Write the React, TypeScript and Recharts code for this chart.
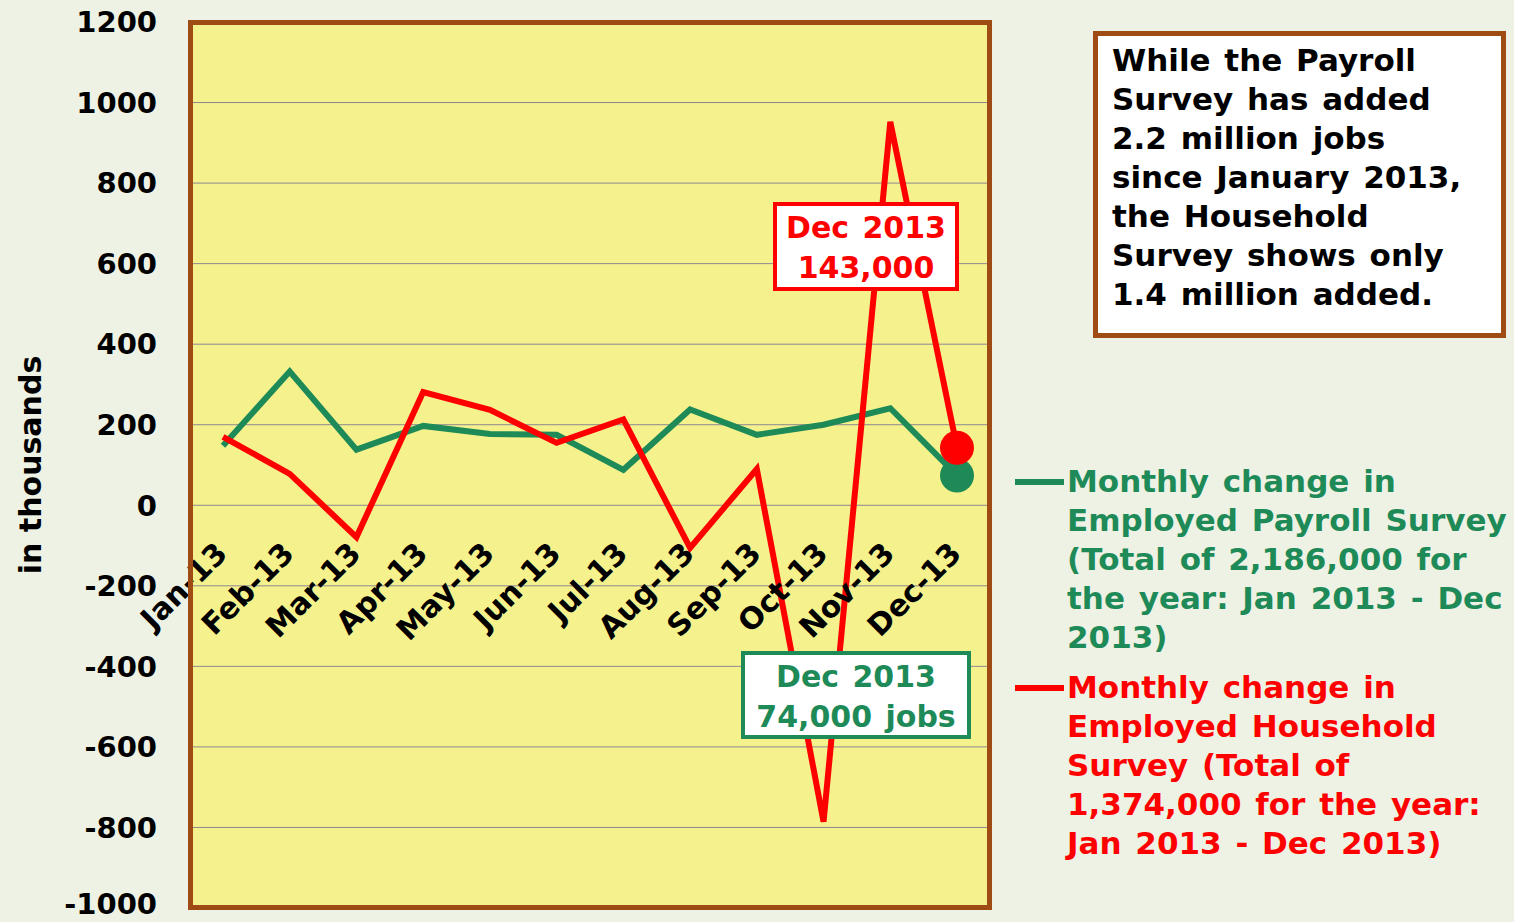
import React from "react";
import {
  LineChart,
  Line,
  XAxis,
  YAxis,
  CartesianGrid,
  ReferenceDot,
} from "recharts";

const months = [
  "Jan-13", "Feb-13", "Mar-13", "Apr-13", "May-13", "Jun-13",
  "Jul-13", "Aug-13", "Sep-13", "Oct-13", "Nov-13", "Dec-13",
];
// monthly change, thousands
const payroll = [148, 332, 138, 197, 177, 175, 88, 238, 175, 200, 241, 74];
const household = [170, 78, -79, 281, 237, 155, 213, -106, 90, -786, 952, 143];
const yTicks = [-1000, -800, -600, -400, -200, 0, 200, 400, 600, 800, 1000, 1200];

const payrollLegend = [
  "Monthly change in",
  "Employed Payroll Survey",
  "(Total of 2,186,000 for",
  "the year: Jan 2013 - Dec",
  "2013)",
];
const householdLegend = [
  "Monthly change in",
  "Employed Household",
  "Survey (Total of",
  "1,374,000 for the year:",
  "Jan 2013 - Dec 2013)",
];
const noteLines = [
  "While the Payroll",
  "Survey has added",
  "2.2 million jobs",
  "since January 2013,",
  "the Household",
  "Survey shows only",
  "1.4 million added.",
];
const redCallout = ["Dec 2013", "143,000"];
const greenCallout = ["Dec 2013", "74,000 jobs"];

const GREEN = "#1e8a58";
const RED = "#ff0000";
const BROWN = "#9e4b14";
const FONT = '"DejaVu Sans", Verdana, sans-serif';

const data = months.map((month, i) => ({
  month,
  payroll: payroll[i],
  household: household[i],
}));

const endDot = (color: string) => (props: any) => {
  if (props.index !== months.length - 1) return <g key={`d-${props.index}`} />;
  return <circle key={`d-${props.index}`} cx={props.cx} cy={props.cy} r={17} fill={color} />;
};

const monthLabel = (text: string) => (props: any) => {
  const { x, y } = props.viewBox;
  const tx = x + 6;
  const ty = y + 50;
  return (
    <text
      x={tx}
      y={ty}
      textAnchor="end"
      transform={`rotate(-45, ${tx}, ${ty})`}
      fontFamily={FONT}
      fontWeight="bold"
      fontSize={30}
      fill="#000"
    >
      {text}
    </text>
  );
};

// y tick; the lowest one sits on the bottom edge, lift it a hair
const YTick = (props: any) => {
  const { x, y, payload } = props;
  const lift = payload.value === yTicks[0] ? 4 : 0;
  return (
    <text
      x={x}
      y={y - lift}
      dy="0.355em"
      textAnchor="end"
      fontFamily={FONT}
      fontWeight="bold"
      fontSize={29}
      fill="#000"
    >
      {payload.value}
    </text>
  );
};

const yTitle = (props: any) => {
  const { x, y, height } = props.viewBox;
  const tx = x + 41;
  const ty = y + height / 2;
  return (
    <text
      x={tx}
      y={ty}
      textAnchor="middle"
      transform={`rotate(-90, ${tx}, ${ty})`}
      fontFamily={FONT}
      fontWeight="bold"
      fontSize={30}
      fill="#000"
    >
      in thousands
    </text>
  );
};

const textBlock: React.CSSProperties = {
  position: "absolute",
  fontFamily: FONT,
  fontWeight: "bold",
  fontSize: 31,
  lineHeight: "39px",
  whiteSpace: "nowrap",
  wordSpacing: 3,
};

function Callout({ lines, color, left, top, width, height }: any) {
  return (
    <div
      style={{
        ...textBlock,
        fontSize: 30,
        left,
        top,
        width,
        height,
        boxSizing: "border-box",
        border: `4px solid ${color}`,
        background: "#fff",
        color,
        textAlign: "center",
        lineHeight: "40px",
        paddingTop: 2,
      }}
    >
      {lines.map((l: string) => (
        <div key={l}>{l}</div>
      ))}
    </div>
  );
}

function LegendItem({ lines, color, top }: any) {
  return (
    <div style={{ ...textBlock, left: 1015, top, color }}>
      <div
        style={{
          position: "absolute",
          left: 0,
          top: 17,
          width: 49,
          height: 6,
          background: color,
        }}
      />
      <div style={{ marginLeft: 52 }}>
        {lines.map((l: string) => (
          <div key={l}>{l}</div>
        ))}
      </div>
    </div>
  );
}

export default function App() {
  return (
    <div
      style={{
        position: "absolute",
        left: 0,
        top: 0,
        width: 1514,
        height: 922,
        background: "#eef2e5",
        overflow: "hidden",
      }}
    >
      <LineChart
        width={1514}
        height={922}
        data={data}
        margin={{ top: 22, right: 524, bottom: 14, left: 0 }}
      >
        <CartesianGrid
          horizontal
          vertical={false}
          stroke="#8d8790"
          strokeWidth={1}
          fill="#f5f28d"
          fillOpacity={1}
        />
        <XAxis dataKey="month" hide padding={{ left: 33, right: 33 }} />
        <YAxis
          width={190}
          domain={[-1000, 1200]}
          ticks={yTicks}
          interval={0}
          axisLine={false}
          tickLine={false}
          tickSize={0}
          tickMargin={33}
          tick={<YTick />}
          label={{ content: yTitle }}
        />
        {months.map((m) => (
          <ReferenceDot
            key={m}
            x={m}
            y={0}
            r={0}
            ifOverflow="visible"
            fill="none"
            stroke="none"
            label={{ content: monthLabel(m) }}
          />
        ))}
        <Line
          type="linear"
          dataKey="payroll"
          stroke={GREEN}
          strokeWidth={6}
          dot={endDot(GREEN)}
          activeDot={false}
          isAnimationActive={false}
        />
        <Line
          type="linear"
          dataKey="household"
          stroke={RED}
          strokeWidth={6}
          dot={endDot(RED)}
          activeDot={false}
          isAnimationActive={false}
        />
      </LineChart>

      {/* plot frame */}
      <div
        style={{
          position: "absolute",
          left: 188,
          top: 20,
          width: 804,
          height: 890,
          boxSizing: "border-box",
          border: `5px solid ${BROWN}`,
          pointerEvents: "none",
        }}
      />

      <Callout lines={redCallout} color={RED} left={773} top={202} width={186} height={89} />
      <Callout lines={greenCallout} color={GREEN} left={741} top={651} width={230} height={88} />

      <LegendItem lines={payrollLegend} color={GREEN} top={462} />
      <LegendItem lines={householdLegend} color={RED} top={668} />

      <div
        style={{
          ...textBlock,
          left: 1093,
          top: 31,
          width: 413,
          height: 307,
          boxSizing: "border-box",
          border: `5px solid ${BROWN}`,
          background: "#fff",
          color: "#000",
          paddingLeft: 14,
          paddingTop: 5,
        }}
      >
        {noteLines.map((l) => (
          <div key={l}>{l}</div>
        ))}
      </div>
    </div>
  );
}
